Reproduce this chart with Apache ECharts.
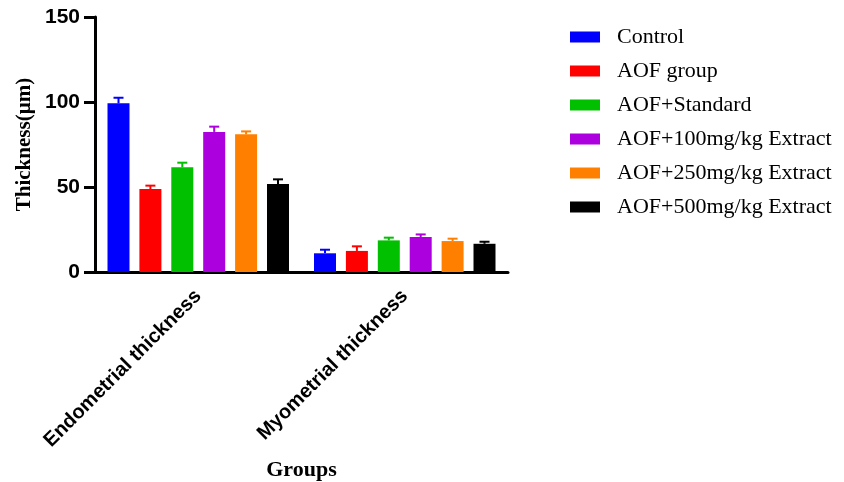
<!DOCTYPE html>
<html>
<head>
<meta charset="utf-8">
<script src="https://cdn.jsdelivr.net/npm/echarts@6/dist/echarts.min.js"></script>
<style>
  html, body { margin: 0; padding: 0; background: #fff; }
  #chart { width: 844px; height: 482px; }
</style>
</head>
<body>
<div id="chart"></div>
<script>
// values
var categories = ['Endometrial thickness', 'Myometrial thickness'];
var groups = ['Control', 'AOF group', 'AOF+Standard', 'AOF+100mg/kg Extract', 'AOF+250mg/kg Extract', 'AOF+500mg/kg Extract'];
var colors = ['#0000FF', '#FF0000', '#00C000', '#AC00DF', '#FF8000', '#000000'];

var control = [99.2, 11.0];
var aofGroup = [48.8, 12.4];
var aofStandard = [61.6, 18.6];
var aof100 = [82.4, 20.6];
var aof250 = [81.0, 18.2];
var aof500 = [51.8, 16.6];

var controlErr = [3.3, 2.1];
var aofGroupErr = [2.0, 2.7];
var aofStandardErr = [2.7, 1.6];
var aof100Err = [3.1, 1.5];
var aof250Err = [1.7, 1.4];
var aof500Err = [2.7, 1.2];

var yTicks = [0, 50, 100, 150];

var means = [control, aofGroup, aofStandard, aof100, aof250, aof500];
var errs = [controlErr, aofGroupErr, aofStandardErr, aof100Err, aof250Err, aof500Err];

var BAR_W = 22;
var BAR_GAP = 0.45; // fraction of bar width

var chart = echarts.init(document.getElementById('chart'));

var series = [];
groups.forEach(function (name, i) {
  series.push({
    name: name,
    type: 'bar',
    data: means[i],
    barWidth: BAR_W,
    barGap: (BAR_GAP * 100) + '%',
    itemStyle: { color: colors[i] }
  });
});

// one-sided (upper) error bars
var errData = [];
groups.forEach(function (name, i) {
  categories.forEach(function (c, j) {
    errData.push([j, means[i][j], errs[i][j], i]);
  });
});

series.push({
  type: 'custom',
  name: 'err',
  z: 5,
  data: errData,
  encode: { x: 0, y: 1 },
  renderItem: function (params, api) {
    var cat = api.value(0);
    var mean = api.value(1);
    var err = api.value(2);
    var idx = api.value(3);
    var n = groups.length;
    var gap = BAR_W * BAR_GAP;
    var total = n * BAR_W + (n - 1) * gap;
    var center = api.coord([cat, 0])[0];
    var x = center - total / 2 + idx * (BAR_W + gap) + BAR_W / 2;
    var top = api.coord([cat, mean])[1];
    var hi = api.coord([cat, mean + err])[1];
    var style = { stroke: colors[idx], lineWidth: 2 };
    return {
      type: 'group',
      children: [
        { type: 'line', shape: { x1: x, y1: top, x2: x, y2: hi }, style: style },
        { type: 'line', shape: { x1: x - 5, y1: hi, x2: x + 5, y2: hi }, style: style }
      ]
    };
  }
});

var option = {
  animation: false,
  backgroundColor: '#ffffff',
  grid: { left: 95, right: 336, top: 17, bottom: 210, outerBoundsMode: 'none' },
  legend: {
    data: groups,
    orient: 'vertical',
    left: 570,
    top: 26,
    padding: 0,
    itemWidth: 30,
    itemHeight: 11,
    itemGap: 12,
    icon: 'rect',
    textStyle: { fontFamily: 'Liberation Serif', fontSize: 22, color: '#000', padding: [0, 0, 0, 12] }
  },
  xAxis: {
    type: 'category',
    data: categories,
    name: 'Groups',
    nameLocation: 'middle',
    nameGap: 187,
    nameTextStyle: { fontFamily: 'Liberation Serif', fontWeight: 'bold', fontSize: 22, color: '#000' },
    axisLine: { lineStyle: { color: '#000', width: 3 } },
    axisTick: { alignWithLabel: true, length: 10, lineStyle: { color: '#000', width: 3 } },
    axisLabel: {
      rotate: 45,
      margin: 21,
      fontFamily: 'Liberation Sans',
      fontWeight: 'bold',
      fontSize: 20,
      color: '#000'
    },
    splitLine: { show: false }
  },
  yAxis: {
    type: 'value',
    min: yTicks[0],
    max: yTicks[yTicks.length - 1],
    interval: yTicks[1] - yTicks[0],
    name: 'Thickness(µm)',
    nameLocation: 'middle',
    nameGap: 60,
    nameTextStyle: { fontFamily: 'Liberation Serif', fontWeight: 'bold', fontSize: 21, color: '#000' },
    axisLine: { show: true, lineStyle: { color: '#000', width: 3 } },
    axisTick: { show: true, length: 11, lineStyle: { color: '#000', width: 3 } },
    axisLabel: {
      margin: 15,
      fontFamily: 'Liberation Sans',
      fontWeight: 'bold',
      fontSize: 21,
      color: '#000'
    },
    splitLine: { show: false }
  },
  series: series
};

chart.setOption(option);
</script>
</body>
</html>
